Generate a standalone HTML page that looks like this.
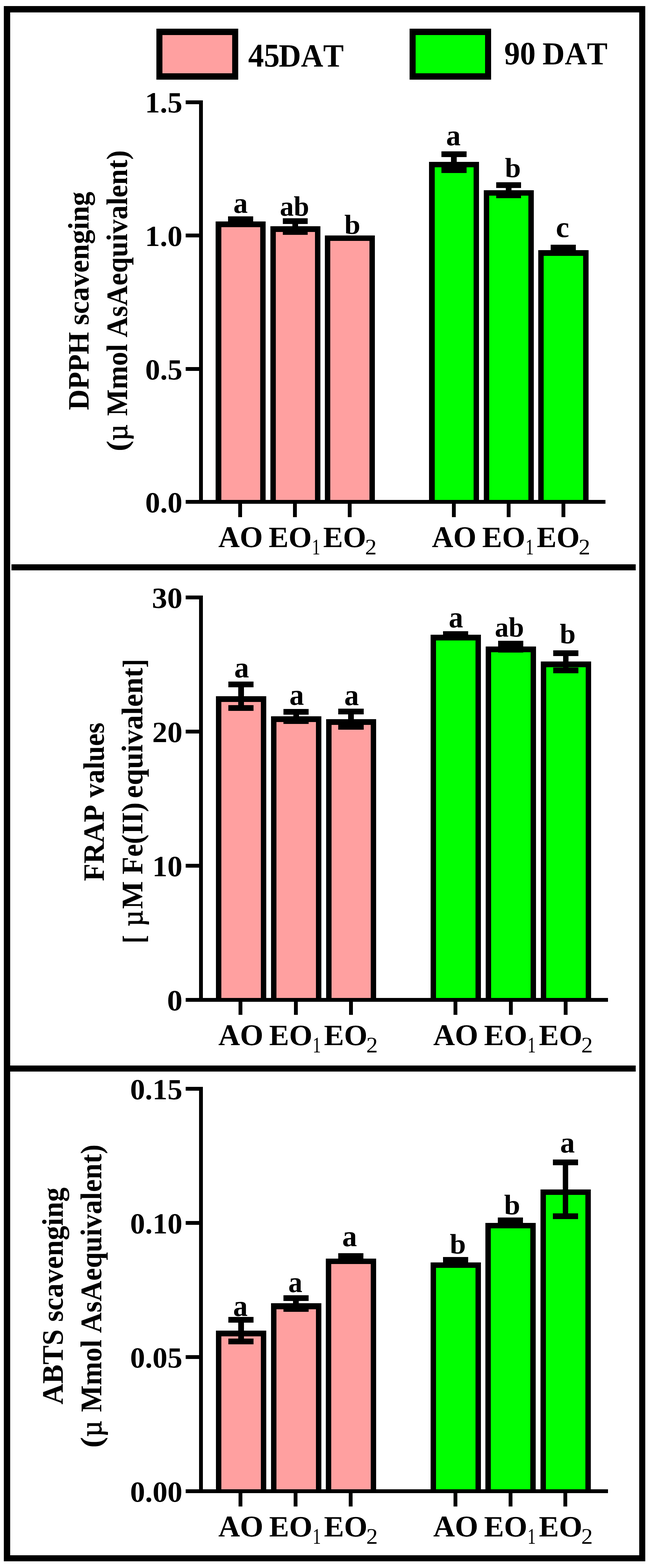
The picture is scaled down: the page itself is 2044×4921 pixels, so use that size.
<!DOCTYPE html>
<html lang="en"><head><meta charset="utf-8"><title>Antioxidant activity at 45 DAT and 90 DAT</title>
<style>
html,body{margin:0;padding:0;background:#fff;}
body{width:2044px;height:4921px;overflow:hidden;}
svg{display:block;}
rect{shape-rendering:crispEdges;}
text{fill:#000;font-family:"Liberation Serif","DejaVu Serif",serif;font-size:100px;font-weight:bold;
 font-kerning:none;font-variant-ligatures:none;white-space:pre;text-rendering:geometricPrecision;}
</style></head><body>
<svg width="2044" height="4921" viewBox="0 0 2044 4921">
<rect x="12" y="19" width="2014" height="20" fill="#000"/>
<rect x="12" y="4881" width="2014" height="19" fill="#000"/>
<rect x="12" y="19" width="20" height="4881" fill="#000"/>
<rect x="2007" y="19" width="19" height="4881" fill="#000"/>
<rect x="36" y="1771" width="1960" height="19" fill="#000"/>
<rect x="32" y="3344" width="1964" height="19" fill="#000"/>
<rect x="491" y="90" width="257" height="160" fill="#000"/>
<rect x="510" y="110" width="218.5" height="120" fill="#FFA0A0"/>
<rect x="1286" y="90" width="256" height="160" fill="#000"/>
<rect x="1305" y="110" width="218" height="120" fill="#00FF00"/>
<text><tspan x="779.35" y="209.28" font-size="104.2" textLength="98.66" lengthAdjust="spacingAndGlyphs">45</tspan><tspan x="875.2" y="209" font-size="101.87" textLength="204.06" lengthAdjust="spacingAndGlyphs">DAT</tspan></text>
<text><tspan x="1583.21" y="202" font-size="102.25" textLength="98.55" lengthAdjust="spacingAndGlyphs">90</tspan> <tspan x="1703.3" y="201.7" font-size="100.49" textLength="204.16" lengthAdjust="spacingAndGlyphs">DAT</tspan></text>
<rect x="624.5" y="314.5" width="12.3" height="1266.6" fill="#000"/>
<rect x="583" y="1569.1" width="1318" height="12" fill="#000"/>
<rect x="583" y="314.5" width="47" height="12" fill="#000"/>
<text><tspan x="455.27" y="353.19" font-size="92.39" textLength="117.47" lengthAdjust="spacingAndGlyphs">1.5</tspan></text>
<rect x="583" y="733.3" width="47" height="12" fill="#000"/>
<text><tspan x="455.27" y="772" font-size="91.73" textLength="117.62" lengthAdjust="spacingAndGlyphs">1.0</tspan></text>
<rect x="583" y="1152" width="47" height="12" fill="#000"/>
<text><tspan x="456.05" y="1190.7" font-size="91.73" textLength="116.67" lengthAdjust="spacingAndGlyphs">0.5</tspan></text>
<rect x="583" y="1569.1" width="47" height="12" fill="#000"/>
<text><tspan x="456.04" y="1607.8" font-size="91.73" textLength="116.82" lengthAdjust="spacingAndGlyphs">0.0</tspan></text>
<rect x="677.4" y="695" width="156.4" height="880.1" fill="#000"/>
<rect x="694.6" y="712.9" width="122" height="856.2" fill="#FFA0A0"/>
<rect x="715.7" y="679" width="78.8" height="17.6" fill="#000"/>
<rect x="746.3" y="679" width="17.6" height="18" fill="#000"/>
<text><tspan x="732.79" y="668" font-size="91.86" textLength="45.18" lengthAdjust="spacingAndGlyphs">a</tspan></text>
<rect x="747.9" y="1575.1" width="12" height="47.8" fill="#000"/>
<text><tspan x="685.39" y="1717" font-size="94.52" textLength="139.86" lengthAdjust="spacingAndGlyphs">AO</tspan></text>
<rect x="849.2" y="710" width="156.5" height="865.1" fill="#000"/>
<rect x="866.4" y="727.7" width="122.1" height="841.4" fill="#FFA0A0"/>
<rect x="887.55" y="685" width="78.8" height="17.6" fill="#000"/>
<rect x="918.15" y="685" width="17.6" height="51.8" fill="#000"/>
<rect x="887.55" y="719.2" width="78.8" height="17.6" fill="#000"/>
<text><tspan x="878.69" y="676.84" font-size="87.83" textLength="92.04" lengthAdjust="spacingAndGlyphs">ab</tspan></text>
<rect x="920.1" y="1575.1" width="12" height="47.8" fill="#000"/>
<text><tspan x="843.4" y="1717" font-size="92.4" textLength="135.38" lengthAdjust="spacingAndGlyphs">EO</tspan><tspan x="979.41" y="1740.2" font-size="70.13" font-weight="normal" textLength="26.13" lengthAdjust="spacingAndGlyphs">1</tspan></text>
<rect x="1020" y="739" width="156.7" height="836.1" fill="#000"/>
<rect x="1037.2" y="756" width="122.3" height="813.1" fill="#FFA0A0"/>
<text><tspan x="1081.25" y="733.95" font-size="86.55" textLength="50.2" lengthAdjust="spacingAndGlyphs">b</tspan></text>
<rect x="1092.1" y="1575.1" width="12" height="47.8" fill="#000"/>
<text><tspan x="1014.7" y="1717" font-size="92.4" textLength="134.85" lengthAdjust="spacingAndGlyphs">EO</tspan><tspan x="1146.2" y="1740.2" font-size="69.93" font-weight="normal" textLength="36.42" lengthAdjust="spacingAndGlyphs">2</tspan></text>
<rect x="1347.4" y="508.2" width="156.4" height="1066.9" fill="#000"/>
<rect x="1364.6" y="525" width="122" height="1044.1" fill="#00FF00"/>
<rect x="1385.7" y="475.1" width="78.8" height="17.6" fill="#000"/>
<rect x="1416.3" y="475.1" width="17.6" height="67.6" fill="#000"/>
<rect x="1385.7" y="525.1" width="78.8" height="17.6" fill="#000"/>
<text><tspan x="1400.76" y="456" font-size="92.48" textLength="45.62" lengthAdjust="spacingAndGlyphs">a</tspan></text>
<rect x="1418.9" y="1575.1" width="12" height="47.8" fill="#000"/>
<text><tspan x="1355.89" y="1717" font-size="94.52" textLength="139.86" lengthAdjust="spacingAndGlyphs">AO</tspan></text>
<rect x="1519.2" y="597.1" width="156.5" height="978" fill="#000"/>
<rect x="1536.4" y="613.9" width="122.1" height="955.2" fill="#00FF00"/>
<rect x="1557.55" y="572.1" width="78.8" height="17.6" fill="#000"/>
<rect x="1588.15" y="572.1" width="17.6" height="49.7" fill="#000"/>
<rect x="1557.55" y="604.2" width="78.8" height="17.6" fill="#000"/>
<text><tspan x="1585.35" y="556.15" font-size="86.84" textLength="50.2" lengthAdjust="spacingAndGlyphs">b</tspan></text>
<rect x="1590.9" y="1575.1" width="12" height="47.8" fill="#000"/>
<text><tspan x="1513.9" y="1717" font-size="92.4" textLength="135.38" lengthAdjust="spacingAndGlyphs">EO</tspan><tspan x="1649.91" y="1740.2" font-size="70.13" font-weight="normal" textLength="26.13" lengthAdjust="spacingAndGlyphs">1</tspan></text>
<rect x="1690" y="785" width="157.8" height="790.1" fill="#000"/>
<rect x="1707.2" y="802.7" width="123.4" height="766.4" fill="#00FF00"/>
<rect x="1729" y="768.2" width="78.8" height="17.6" fill="#000"/>
<rect x="1759.6" y="768.2" width="17.6" height="18.8" fill="#000"/>
<text><tspan x="1745.17" y="744.04" font-size="92.62" textLength="41.99" lengthAdjust="spacingAndGlyphs">c</tspan></text>
<rect x="1763.2" y="1575.1" width="12" height="47.8" fill="#000"/>
<text><tspan x="1685.2" y="1717" font-size="92.4" textLength="134.85" lengthAdjust="spacingAndGlyphs">EO</tspan><tspan x="1816.7" y="1740.2" font-size="69.93" font-weight="normal" textLength="36.42" lengthAdjust="spacingAndGlyphs">2</tspan></text>
<text transform="matrix(0 -1 1 0 278.3 1285.4)"><tspan x="-1.58" y="0" font-size="92.85" textLength="244.88" lengthAdjust="spacingAndGlyphs">DPPH</tspan> <tspan x="265.28" y="0" font-size="92.85" textLength="418.59" lengthAdjust="spacingAndGlyphs">scavenging</tspan></text>
<text transform="matrix(0 -1 1 0 398.5 1412)"><tspan x="-4.47" y="0" font-size="93.47" textLength="33.84" lengthAdjust="spacingAndGlyphs">(</tspan><tspan x="29.24" y="0" font-size="93.47" font-weight="normal" stroke="#000" stroke-width="1.8" textLength="51.05" lengthAdjust="spacingAndGlyphs">µ</tspan> <tspan x="106.69" y="0" font-size="93.47" textLength="225.92" lengthAdjust="spacingAndGlyphs">Mmol</tspan> <tspan x="353.33" y="0" font-size="93.47" textLength="586.87" lengthAdjust="spacingAndGlyphs">AsAequivalent)</tspan></text>
<rect x="624.5" y="1869.2" width="12.3" height="1274.8" fill="#000"/>
<rect x="583" y="3132" width="1326" height="12" fill="#000"/>
<rect x="583" y="1869.2" width="47" height="12" fill="#000"/>
<text><tspan x="477.1" y="1908.3" font-size="92.32" textLength="95.85" lengthAdjust="spacingAndGlyphs">30</tspan></text>
<rect x="583" y="2290" width="47" height="12" fill="#000"/>
<text><tspan x="478.01" y="2329.1" font-size="92.32" textLength="94.9" lengthAdjust="spacingAndGlyphs">20</tspan></text>
<rect x="583" y="2711.2" width="47" height="12" fill="#000"/>
<text><tspan x="478.22" y="2750.3" font-size="92.32" textLength="94.69" lengthAdjust="spacingAndGlyphs">10</tspan></text>
<rect x="583" y="3132" width="47" height="12" fill="#000"/>
<text><tspan x="524.51" y="3171.1" font-size="92.32" textLength="48.49" lengthAdjust="spacingAndGlyphs">0</tspan></text>
<rect x="678.2" y="2185" width="157.9" height="953" fill="#000"/>
<rect x="695.4" y="2203" width="123.5" height="929" fill="#FFA0A0"/>
<rect x="716.99" y="2139.1" width="79.31" height="17.6" fill="#000"/>
<rect x="747.79" y="2139.1" width="17.71" height="91.6" fill="#000"/>
<rect x="716.99" y="2213.1" width="79.31" height="17.6" fill="#000"/>
<text><tspan x="735.5" y="2126.4" font-size="92.48" textLength="46.51" lengthAdjust="spacingAndGlyphs">a</tspan></text>
<rect x="749.2" y="3138" width="12" height="46.6" fill="#000"/>
<text><tspan x="685.48" y="3280" font-size="94.52" textLength="141.32" lengthAdjust="spacingAndGlyphs">AO</tspan></text>
<rect x="851.2" y="2248.1" width="158" height="889.9" fill="#000"/>
<rect x="868.4" y="2266.1" width="123.6" height="865.9" fill="#FFA0A0"/>
<rect x="890.04" y="2225.1" width="79.31" height="17.6" fill="#000"/>
<rect x="920.84" y="2225.1" width="17.71" height="46.6" fill="#000"/>
<rect x="890.04" y="2254.1" width="79.31" height="17.6" fill="#000"/>
<text><tspan x="908.86" y="2211.88" font-size="93.74" textLength="45.62" lengthAdjust="spacingAndGlyphs">a</tspan></text>
<rect x="922.5" y="3138" width="12" height="46.6" fill="#000"/>
<text><tspan x="844.99" y="3280" font-size="92.4" textLength="135.9" lengthAdjust="spacingAndGlyphs">EO</tspan><tspan x="981.41" y="3303.2" font-size="70.13" font-weight="normal" textLength="26.13" lengthAdjust="spacingAndGlyphs">1</tspan></text>
<rect x="1023.7" y="2257.1" width="157.6" height="880.9" fill="#000"/>
<rect x="1040.9" y="2275" width="123.2" height="857" fill="#FFA0A0"/>
<rect x="1062.34" y="2224.3" width="79.31" height="17.6" fill="#000"/>
<rect x="1093.14" y="2224.3" width="17.71" height="65.6" fill="#000"/>
<rect x="1062.34" y="2272.3" width="79.31" height="17.6" fill="#000"/>
<text><tspan x="1081.05" y="2213.28" font-size="93.74" textLength="45.84" lengthAdjust="spacingAndGlyphs">a</tspan></text>
<rect x="1095.6" y="3138" width="12" height="46.6" fill="#000"/>
<text><tspan x="1017.19" y="3280" font-size="92.4" textLength="136.42" lengthAdjust="spacingAndGlyphs">EO</tspan><tspan x="1150.12" y="3303.2" font-size="69.93" font-weight="normal" textLength="36.17" lengthAdjust="spacingAndGlyphs">2</tspan></text>
<rect x="1352.1" y="1992.1" width="157.9" height="1145.9" fill="#000"/>
<rect x="1369.3" y="2010.1" width="123.5" height="1121.9" fill="#00FF00"/>
<rect x="1390.89" y="1980.9" width="79.31" height="17.6" fill="#000"/>
<rect x="1421.69" y="1980.9" width="17.71" height="13.2" fill="#000"/>
<text><tspan x="1408.99" y="1968.77" font-size="94.78" textLength="45.18" lengthAdjust="spacingAndGlyphs">a</tspan></text>
<rect x="1424.4" y="3138" width="12" height="46.6" fill="#000"/>
<text><tspan x="1360.28" y="3280" font-size="94.52" textLength="141.32" lengthAdjust="spacingAndGlyphs">AO</tspan></text>
<rect x="1525.1" y="2029" width="158.1" height="1109" fill="#000"/>
<rect x="1542.3" y="2046.7" width="123.7" height="1085.3" fill="#00FF00"/>
<rect x="1563.99" y="2011" width="79.31" height="17.6" fill="#000"/>
<rect x="1594.79" y="2011" width="17.71" height="36.5" fill="#000"/>
<rect x="1563.99" y="2029.9" width="79.31" height="17.6" fill="#000"/>
<text><tspan x="1553.71" y="1997.84" font-size="87.69" textLength="91.5" lengthAdjust="spacingAndGlyphs">ab</tspan></text>
<rect x="1597.5" y="3138" width="12" height="46.6" fill="#000"/>
<text><tspan x="1519.79" y="3280" font-size="92.4" textLength="135.9" lengthAdjust="spacingAndGlyphs">EO</tspan><tspan x="1656.21" y="3303.2" font-size="70.13" font-weight="normal" textLength="26.13" lengthAdjust="spacingAndGlyphs">1</tspan></text>
<rect x="1698" y="2076.3" width="158" height="1061.7" fill="#000"/>
<rect x="1715.2" y="2094" width="123.6" height="1038" fill="#00FF00"/>
<rect x="1736.84" y="2041" width="79.31" height="17.6" fill="#000"/>
<rect x="1767.64" y="2041" width="17.71" height="71.8" fill="#000"/>
<rect x="1736.84" y="2095.2" width="79.31" height="17.6" fill="#000"/>
<text><tspan x="1757.46" y="2019.14" font-size="88.12" textLength="49.87" lengthAdjust="spacingAndGlyphs">b</tspan></text>
<rect x="1770.2" y="3138" width="12" height="46.6" fill="#000"/>
<text><tspan x="1691.99" y="3280" font-size="92.4" textLength="136.42" lengthAdjust="spacingAndGlyphs">EO</tspan><tspan x="1824.92" y="3303.2" font-size="69.93" font-weight="normal" textLength="36.17" lengthAdjust="spacingAndGlyphs">2</tspan></text>
<text transform="matrix(0 -1 1 0 325.5 2763.6)"><tspan x="-1.54" y="0" font-size="93.01" textLength="239.68" lengthAdjust="spacingAndGlyphs">FRAP</tspan> <tspan x="260.4" y="0" font-size="93.01" textLength="235.66" lengthAdjust="spacingAndGlyphs">values</tspan></text>
<text transform="matrix(0 -1 1 0 446.9 2954.7)"><tspan x="-5.77" y="4.8" font-size="96.42" textLength="25.87" lengthAdjust="spacingAndGlyphs">[</tspan> <tspan x="47.57" y="0" font-size="94.08" font-weight="normal" stroke="#000" stroke-width="1.8" textLength="50.6" lengthAdjust="spacingAndGlyphs">µ</tspan><tspan x="102.12" y="0" font-size="94.08" textLength="87.24" lengthAdjust="spacingAndGlyphs">M</tspan> <tspan x="210.46" y="0" font-size="94.08" textLength="225.82" lengthAdjust="spacingAndGlyphs">Fe(II)</tspan> <tspan x="449.55" y="0" font-size="94.08" textLength="409.45" lengthAdjust="spacingAndGlyphs">equivalent</tspan><tspan x="859" y="4.8" font-size="96.42" textLength="27.67" lengthAdjust="spacingAndGlyphs">]</tspan></text>
<rect x="624.5" y="3411.2" width="12.3" height="1274.7" fill="#000"/>
<rect x="583" y="4673.9" width="1326" height="12" fill="#000"/>
<rect x="583" y="3411.2" width="47" height="12" fill="#000"/>
<text><tspan x="408.42" y="3449.9" font-size="91.73" textLength="164.31" lengthAdjust="spacingAndGlyphs">0.15</tspan></text>
<rect x="583" y="3832" width="47" height="12" fill="#000"/>
<text><tspan x="408.42" y="3870.7" font-size="91.73" textLength="164.46" lengthAdjust="spacingAndGlyphs">0.10</tspan></text>
<rect x="583" y="4252.9" width="47" height="12" fill="#000"/>
<text><tspan x="408.42" y="4291.6" font-size="91.73" textLength="164.31" lengthAdjust="spacingAndGlyphs">0.05</tspan></text>
<rect x="583" y="4673.9" width="47" height="12" fill="#000"/>
<text><tspan x="408.42" y="4712.6" font-size="91.73" textLength="164.46" lengthAdjust="spacingAndGlyphs">0.00</tspan></text>
<rect x="678.2" y="4176.2" width="157.9" height="503.7" fill="#000"/>
<rect x="695.4" y="4193.9" width="123.5" height="480" fill="#FFA0A0"/>
<rect x="716.99" y="4133.4" width="79.31" height="17.6" fill="#000"/>
<rect x="747.79" y="4133.4" width="17.71" height="85.5" fill="#000"/>
<rect x="716.99" y="4201.3" width="79.31" height="17.6" fill="#000"/>
<text><tspan x="731.95" y="4130.48" font-size="94.15" textLength="45.73" lengthAdjust="spacingAndGlyphs">a</tspan></text>
<rect x="748.6" y="4679.9" width="12" height="47.6" fill="#000"/>
<text><tspan x="685.48" y="4821.9" font-size="94.52" textLength="141.32" lengthAdjust="spacingAndGlyphs">AO</tspan></text>
<rect x="850.6" y="4090.2" width="158.4" height="589.7" fill="#000"/>
<rect x="867.8" y="4109" width="124" height="564.9" fill="#FFA0A0"/>
<rect x="889.64" y="4065" width="79.31" height="17.6" fill="#000"/>
<rect x="920.44" y="4065" width="17.71" height="52.1" fill="#000"/>
<rect x="889.64" y="4099.5" width="79.31" height="17.6" fill="#000"/>
<text><tspan x="905.26" y="4055.19" font-size="92.9" textLength="44.08" lengthAdjust="spacingAndGlyphs">a</tspan></text>
<rect x="921.8" y="4679.9" width="12" height="47.6" fill="#000"/>
<text><tspan x="844.99" y="4821.9" font-size="92.4" textLength="135.9" lengthAdjust="spacingAndGlyphs">EO</tspan><tspan x="981.41" y="4845.1" font-size="70.13" font-weight="normal" textLength="26.13" lengthAdjust="spacingAndGlyphs">1</tspan></text>
<rect x="1023.2" y="3950.2" width="158.1" height="729.7" fill="#000"/>
<rect x="1040.4" y="3967" width="123.7" height="706.9" fill="#FFA0A0"/>
<rect x="1062.09" y="3933.1" width="79.31" height="17.6" fill="#000"/>
<rect x="1092.89" y="3933.1" width="17.71" height="19.1" fill="#000"/>
<text><tspan x="1074.61" y="3910.58" font-size="93.74" textLength="46.39" lengthAdjust="spacingAndGlyphs">a</tspan></text>
<rect x="1094.8" y="4679.9" width="12" height="47.6" fill="#000"/>
<text><tspan x="1017.19" y="4821.9" font-size="92.4" textLength="136.42" lengthAdjust="spacingAndGlyphs">EO</tspan><tspan x="1150.12" y="4845.1" font-size="69.93" font-weight="normal" textLength="36.17" lengthAdjust="spacingAndGlyphs">2</tspan></text>
<rect x="1352.1" y="3962.1" width="157.9" height="717.8" fill="#000"/>
<rect x="1369.3" y="3979" width="123.5" height="694.9" fill="#00FF00"/>
<rect x="1390.89" y="3945" width="79.31" height="17.6" fill="#000"/>
<rect x="1421.69" y="3945" width="17.71" height="19.1" fill="#000"/>
<text><tspan x="1412.15" y="3934.34" font-size="88.4" textLength="50.54" lengthAdjust="spacingAndGlyphs">b</tspan></text>
<rect x="1423.6" y="4679.9" width="12" height="47.6" fill="#000"/>
<text><tspan x="1360.28" y="4821.9" font-size="94.52" textLength="141.32" lengthAdjust="spacingAndGlyphs">AO</tspan></text>
<rect x="1523.9" y="3838.2" width="158" height="841.7" fill="#000"/>
<rect x="1541.1" y="3854.8" width="123.6" height="819.1" fill="#00FF00"/>
<rect x="1562.74" y="3821" width="79.31" height="17.6" fill="#000"/>
<rect x="1593.54" y="3821" width="17.71" height="19.2" fill="#000"/>
<text><tspan x="1582.65" y="3811.43" font-size="88.69" textLength="50.54" lengthAdjust="spacingAndGlyphs">b</tspan></text>
<rect x="1596.6" y="4679.9" width="12" height="47.6" fill="#000"/>
<text><tspan x="1519.79" y="4821.9" font-size="92.4" textLength="135.9" lengthAdjust="spacingAndGlyphs">EO</tspan><tspan x="1656.21" y="4845.1" font-size="70.13" font-weight="normal" textLength="26.13" lengthAdjust="spacingAndGlyphs">1</tspan></text>
<rect x="1696.9" y="3733" width="158.1" height="946.9" fill="#000"/>
<rect x="1714.1" y="3750" width="123.7" height="923.9" fill="#00FF00"/>
<rect x="1735.79" y="3639.1" width="79.31" height="17.6" fill="#000"/>
<rect x="1766.59" y="3639.1" width="17.71" height="186.7" fill="#000"/>
<rect x="1735.79" y="3808.2" width="79.31" height="17.6" fill="#000"/>
<text><tspan x="1758.73" y="3617.39" font-size="93.53" textLength="46.06" lengthAdjust="spacingAndGlyphs">a</tspan></text>
<rect x="1769.2" y="4679.9" width="12" height="47.6" fill="#000"/>
<text><tspan x="1691.99" y="4821.9" font-size="92.4" textLength="136.42" lengthAdjust="spacingAndGlyphs">EO</tspan><tspan x="1824.92" y="4845.1" font-size="69.93" font-weight="normal" textLength="36.17" lengthAdjust="spacingAndGlyphs">2</tspan></text>
<text transform="matrix(0 -1 1 0 197 4407)"><tspan x="-0.88" y="0" font-size="93.47" textLength="235.71" lengthAdjust="spacingAndGlyphs">ABTS</tspan> <tspan x="258.87" y="0" font-size="93.47" textLength="421.42" lengthAdjust="spacingAndGlyphs">scavenging</tspan></text>
<text transform="matrix(0 -1 1 0 317.5 4539.2)"><tspan x="-4.5" y="0" font-size="94.23" textLength="34.1" lengthAdjust="spacingAndGlyphs">(</tspan><tspan x="30.08" y="0" font-size="94.23" font-weight="normal" stroke="#000" stroke-width="1.8" textLength="50.49" lengthAdjust="spacingAndGlyphs">µ</tspan> <tspan x="107.78" y="0" font-size="94.23" textLength="226.83" lengthAdjust="spacingAndGlyphs">Mmol</tspan> <tspan x="355.63" y="0" font-size="94.23" textLength="591.61" lengthAdjust="spacingAndGlyphs">AsAequivalent)</tspan></text>
</svg>
</body></html>
